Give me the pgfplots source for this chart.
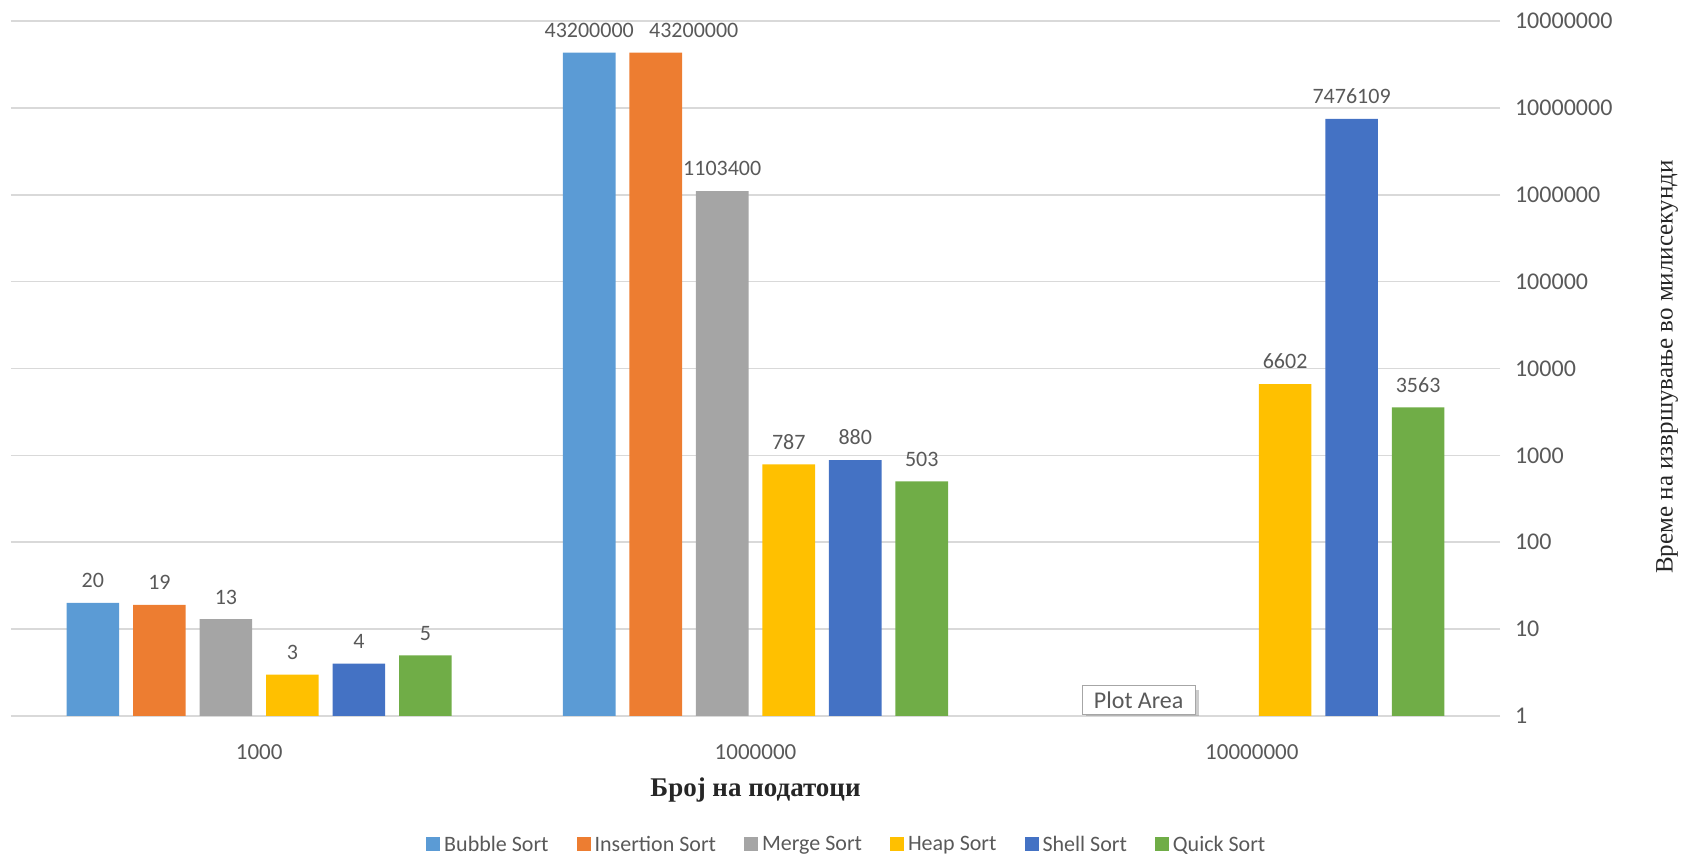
\documentclass[border=0pt]{standalone}
\usepackage{fontspec}
\setmainfont{Liberation Serif}
\newfontfamily\calibri{Carlito}
\usepackage{pgfplots}
\pgfplotsset{compat=1.18}
\usetikzlibrary{shadows}
\definecolor{cBub}{HTML}{5B9BD5}
\definecolor{cIns}{HTML}{ED7D31}
\definecolor{cMer}{HTML}{A5A5A5}
\definecolor{cHea}{HTML}{FFC000}
\definecolor{cShe}{HTML}{4472C4}
\definecolor{cQui}{HTML}{70AD47}
\definecolor{txtgray}{HTML}{595959}
\definecolor{gridgray}{HTML}{D9D9D9}
\begin{document}
\begin{tikzpicture}
\begin{axis}[
  scale only axis,
  width=744.5pt, height=347.5pt,
  ymode=log,
  ymin=1, ymax=1e8,
  xmin=-0.5, xmax=2.5,
  ybar, bar width=0.106,
  xtick={0,1,2}, xticklabels={1000,1000000,10000000},
  xtick style={draw=none},
  ytick={1,10,100,1000,10000,100000,1000000,10000000,100000000},
  yticklabels={1,10,100,1000,10000,100000,1000000,10000000,10000000},
  yminorticks=false,
  ymajorgrids, grid style={gridgray, line width=0.8pt},
  axis line style={draw=none},
  ytick pos=right, yticklabel pos=right,
  major tick length=5pt,
  ytick style={gridgray, line width=0.8pt},
  /pgf/number format/assume math mode=true,
  tick label style={text=txtgray},
  yticklabel style={font=\calibri\fontsize{12}{14}\selectfont, anchor=west, xshift=4pt},
  xticklabel style={font=\calibri\fontsize{11.5}{13}\selectfont, yshift=-6pt},
  xlabel={\bfseries Број на податоци},
  xlabel style={font=\fontsize{13.5}{15}\selectfont, text=black!85, at={(axis description cs:0.5,0)}, anchor=center, yshift=-37pt},
  ylabel={Време на извршување во милисекунди},
  ylabel style={font=\fontsize{12.5}{14}\selectfont, text=black!85, at={(axis description cs:1,0.502)}, anchor=center, yshift=-83.5pt},
  point meta=explicit symbolic,
  nodes near coords,
  every node near coord/.append style={font=\calibri\fontsize{11}{13}\selectfont, text=txtgray, anchor=south, yshift=4pt},
  legend columns=6,
  legend style={at={(0.562,-0.186)}, anchor=center, draw=none, fill=none,
    font=\calibri\fontsize{11}{13}\selectfont, text=txtgray,
    /tikz/every even column/.append style={column sep=12pt}},
  legend image code/.code={\fill[#1] (0pt,-3pt) rectangle (7pt,4pt);},
]
\addplot[fill=cBub, draw=none, bar shift=-0.335] coordinates {(0,20) [20] (1,43200000) [43200000]};
\addplot[fill=cIns, draw=none, bar shift=-0.201] coordinates {(0,19) [19] (1,43200000) []};
\addplot[fill=cMer, draw=none, bar shift=-0.067] coordinates {(0,13) [13] (1,1103400) [1103400]};
\addplot[fill=cHea, draw=none, bar shift=0.067] coordinates {(0,3) [3] (1,787) [787] (2,6602) [6602]};
\addplot[fill=cShe, draw=none, bar shift=0.201] coordinates {(0,4) [4] (1,880) [880] (2,7476109) [7476109]};
\addplot[fill=cQui, draw=none, bar shift=0.335] coordinates {(0,5) [5] (1,503) [503] (2,3563) [3563]};
\addplot[forget plot, draw=none, fill=none, bar shift=-0.201,
  every node near coord/.append style={xshift=19pt}] coordinates {(1,43200000) [43200000]};
\legend{Bubble Sort, Insertion Sort, Merge Sort, Heap Sort, Shell Sort, Quick Sort}
\node[draw=gray!70, fill=white, drop shadow={opacity=0.4, shadow xshift=2pt, shadow yshift=-2pt},
  font=\calibri\fontsize{12}{14}\selectfont, text=black!65, inner xsep=6pt, inner ysep=3pt]
  at (axis cs:1.772,1.53) {Plot Area};
\end{axis}
\pgfresetboundingbox
\useasboundingbox (-5.5pt,-69.5pt) rectangle (835pt,358pt);
\end{tikzpicture}
\end{document}
